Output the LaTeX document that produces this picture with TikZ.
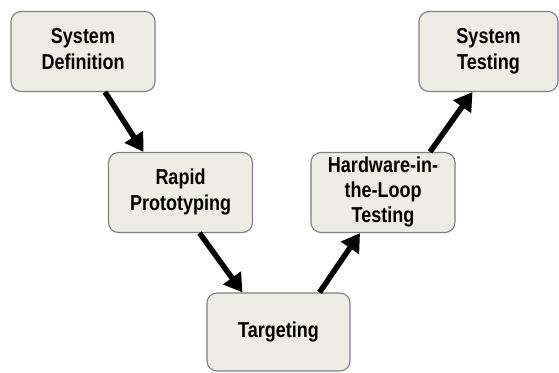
\documentclass[tikz,border=0pt]{standalone}
\usepackage{fontspec}
\setmainfont{Liberation Sans}
\usetikzlibrary{arrows.meta}
\definecolor{stagefill}{rgb}{0.929, 0.925, 0.898}
\definecolor{stageline}{rgb}{0.50, 0.50, 0.50}
\newcommand{\stagetext}[1]{\scalebox{1}[1.2]{\begin{tabular}{@{}c@{}}#1\end{tabular}}}
\tikzset{stage/.style={draw=stageline, line width=1.1pt, fill=stagefill, rounded corners=10pt,
        minimum width=144pt, minimum height=80pt, align=center, inner sep=2pt,
        font=\fontsize{18}{21}\selectfont\bfseries}}
\tikzset{flow/.style={line width=5.5pt, -{Triangle[length=18pt, width=21pt]}}}

\begin{document}
\begin{tikzpicture}[x=1pt, y=-1pt]
        \useasboundingbox (0,0) rectangle (559,372);

        \node[stage] (sysdef) at (83, 51.5) {\stagetext{System\\Definition}};
        \node[stage] (rapid) at (180.5, 192.5) {\stagetext{Rapid\\Prototyping}};
        \node[stage, minimum width=143pt, minimum height=78pt] (target) at (278.5, 332) {\stagetext{Targeting}};
        \node[stage] (hil) at (383, 192.5) {\stagetext{Hardware-in-\\the-Loop\\Testing}};
        \node[stage, minimum width=139pt] (systest) at (488.5, 51.5) {\stagetext{System\\Testing}};

        \draw [flow] ([xshift=22pt]sysdef.south) -- ([xshift=-37pt]rapid.north);
        \draw [flow] ([xshift=19pt]rapid.south) -- ([xshift=-36pt]target.north);
        \draw [flow] ([xshift=41pt]target.north) -- ([xshift=-23pt]hil.south);
        \draw [flow] ([xshift=47pt]hil.north) -- ([xshift=-16pt]systest.south);
\end{tikzpicture}
\end{document}
